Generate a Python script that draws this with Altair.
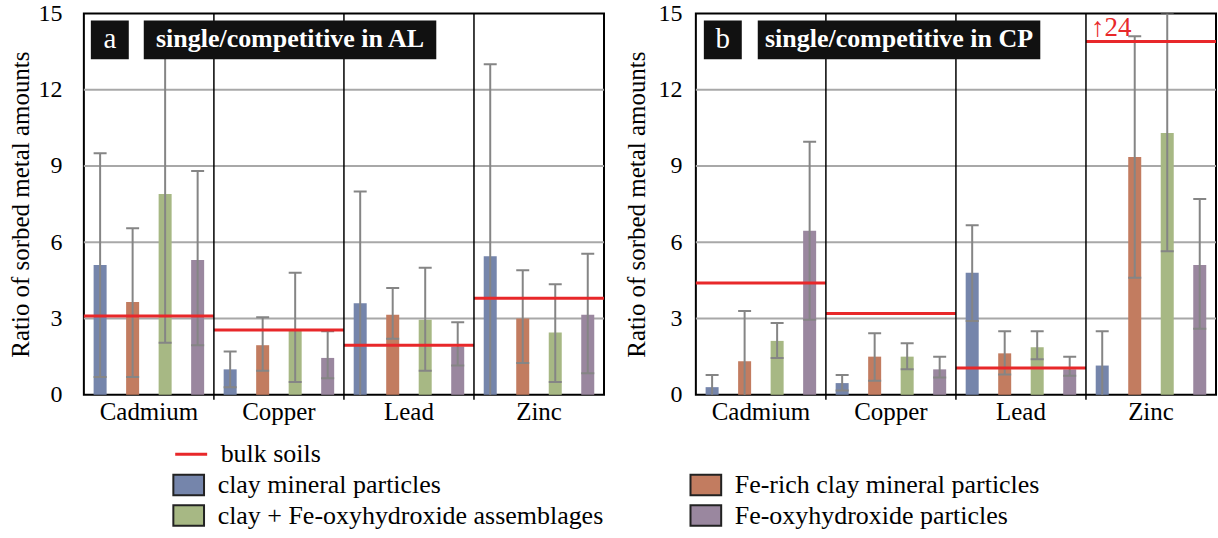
import altair as alt
import pandas as pd

metals = ["Cadmium", "Copper", "Lead", "Zinc"]
types = ["clay mineral particles", "Fe-rich clay mineral particles",
         "clay + Fe-oxyhydroxide assemblages", "Fe-oxyhydroxide particles"]
colors = ["#7585ab", "#c27c60", "#a7b884", "#9a879f"]
# legend fills columns first: left column = items 1 and 3, right column = items 2 and 4
legend_order = [0, 2, 1, 3]
RED = "#e8282a"
FONT = "'Liberation Serif', 'Times New Roman', Times, 'DejaVu Serif', serif"

# ---- panel a : single/competitive in AL ----
al_clay = [5.1, 1.0, 3.6, 5.45]
al_clay_lo = [0.7, 0.3, -0.8, -2.1]
al_clay_hi = [9.5, 1.7, 8.0, 13.0]
al_ferich = [3.65, 1.95, 3.15, 3.0]
al_ferich_lo = [0.7, 0.95, 2.2, 1.25]
al_ferich_hi = [6.55, 3.05, 4.2, 4.9]
al_mixed = [7.9, 2.55, 2.95, 2.45]
al_mixed_lo = [2.05, 0.5, 0.95, 0.5]
al_mixed_hi = [13.75, 4.8, 5.0, 4.35]
al_oxy = [5.3, 1.45, 1.9, 3.15]
al_oxy_lo = [1.95, 0.65, 1.15, 0.85]
al_oxy_hi = [8.8, 2.5, 2.85, 5.55]
al_bulk = [3.1, 2.55, 1.95, 3.8]

# ---- panel b : single/competitive in CP ----
cp_clay = [0.3, 0.46, 4.8, 1.15]
cp_clay_lo = [-0.2, 0.17, 2.9, -0.2]
cp_clay_hi = [0.78, 0.78, 6.67, 2.5]
cp_ferich = [1.32, 1.5, 1.63, 9.35]
cp_ferich_lo = [-0.65, 0.55, 0.8, 4.6]
cp_ferich_hi = [3.3, 2.42, 2.5, 14.1]
cp_mixed = [2.12, 1.5, 1.87, 10.3]
cp_mixed_lo = [1.45, 1.0, 1.4, 5.65]
cp_mixed_hi = [2.82, 2.03, 2.5, 15.0]
cp_oxy = [6.45, 1.0, 1.0, 5.1]
cp_oxy_lo = [2.95, 0.68, 0.75, 2.6]
cp_oxy_hi = [9.95, 1.5, 1.5, 7.7]
cp_bulk = [4.4, 3.2, 1.05, 24]

y_ticks = [0, 3, 6, 9, 12, 15]
grid_vals = [3, 6, 9, 12]
OFFSCALE_POS = 13.9   # where an off-scale bulk value is drawn

W, H = 521, 382
YTITLE = "Ratio of sorbed metal amounts"


def bars_frame(series):
    rows = []
    for t, (m_, lo_, hi_) in zip(types, series):
        for i, met in enumerate(metals):
            rows.append({"metal": met, "type": t, "value": m_[i],
                         "lo": lo_[i], "hi": hi_[i]})
    return pd.DataFrame(rows)


def panel(series, bulk, letter, title_text, label_pad, title_pad, box):
    df = bars_frame(series)
    bulk_df = pd.DataFrame({
        "metal": metals,
        "value": [min(v, OFFSCALE_POS) if v > 15 else v for v in bulk],
        "raw": bulk,
        "lab": ["bulk soils"] * 4,
    })
    xs = alt.Scale(domain=metals, paddingInner=0, paddingOuter=0)
    xo = alt.Scale(domain=types, paddingInner=0.6, paddingOuter=0.3)
    ys = alt.Scale(domain=[0, 15], nice=False, zero=True)
    yaxis = alt.Axis(values=y_ticks, grid=False, ticks=False, domain=False,
                     labelPadding=label_pad, titlePadding=title_pad,
                     labelFontSize=24, titleFontSize=25, labelFont=FONT,
                     titleFont=FONT, titleFontWeight="normal",
                     labelColor="black", titleColor="black")
    xaxis = alt.Axis(ticks=False, domain=False, labelAngle=0, labelPadding=5,
                     labelFontSize=25, labelFont=FONT, labelColor="black",
                     title=None)

    grid = alt.Chart(pd.DataFrame({"value": grid_vals})).mark_rule(
        color="#a8a8a8", strokeWidth=2).encode(
        y=alt.Y("value:Q", scale=ys, axis=yaxis, title=YTITLE))

    bars = alt.Chart(df).mark_bar().encode(
        x=alt.X("metal:N", scale=xs, axis=xaxis, title=None),
        xOffset=alt.XOffset("type:N", scale=xo),
        y=alt.Y("value:Q", scale=ys, title=YTITLE),
        color=alt.Color("type:N",
                        scale=alt.Scale(domain=[types[i] for i in legend_order],
                                        range=[colors[i] for i in legend_order]),
                        legend=alt.Legend(
                            orient="none", legendX=92, legendY=459,
                            columns=2, title=None, labelFont=FONT,
                            labelFontSize=26, labelColor="black",
                            symbolType="M-1.5,-1H1.5V1H-1.5Z", symbolSize=420,
                            symbolStrokeColor="#222", symbolStrokeWidth=2,
                            symbolOpacity=1, columnPadding=82, rowPadding=1,
                            labelOffset=16, padding=0, labelLimit=600)),
    )

    err = alt.Chart(df).mark_rule(color="#858585", strokeWidth=2, clip=True).encode(
        x=alt.X("metal:N", scale=xs, title=None),
        xOffset=alt.XOffset("type:N", scale=xo),
        y=alt.Y("lo:Q", scale=ys, title=YTITLE),
        y2="hi:Q",
    )
    cap_hi = alt.Chart(df).mark_tick(color="#858585", size=13, thickness=2,
                                     clip=True, opacity=1).encode(
        x=alt.X("metal:N", scale=xs, title=None),
        xOffset=alt.XOffset("type:N", scale=xo),
        y=alt.Y("hi:Q", scale=ys, title=YTITLE),
    )
    cap_lo = alt.Chart(df).mark_tick(color="#858585", size=13, thickness=2,
                                     clip=True, opacity=1).encode(
        x=alt.X("metal:N", scale=xs, title=None),
        xOffset=alt.XOffset("type:N", scale=xo),
        y=alt.Y("lo:Q", scale=ys, title=YTITLE),
    )

    bulk_line = alt.Chart(bulk_df).mark_tick(
        filled=True, fill=RED, size=W / 4, thickness=3, strokeWidth=0,
        opacity=1).encode(
        x=alt.X("metal:N", scale=xs, title=None),
        y=alt.Y("value:Q", scale=ys, title=YTITLE),
        stroke=alt.Stroke("lab:N", scale=alt.Scale(domain=["bulk soils"], range=[RED]),
                          legend=alt.Legend(
                              orient="none", legendX=90, legendY=424,
                              title=None, symbolType="stroke", symbolSize=1024,
                              symbolStrokeWidth=3, labelFont=FONT,
                              labelFontSize=26, labelColor="black",
                              labelOffset=12, padding=0)),
    )

    dividers = alt.Chart(pd.DataFrame({"metal": metals[1:]})).mark_rule(
        color="black", strokeWidth=1.5).encode(
        x=alt.X("metal:N", scale=xs, bandPosition=0, title=None),
        y=alt.value(0), y2=alt.value(H + 5))

    b0, b1, b2, b3 = box
    rect_letter = alt.Chart(pd.DataFrame({"k": [0]})).mark_rect(color="#111111").encode(
        x=alt.value(b0), x2=alt.value(b0 + 38), y=alt.value(7), y2=alt.value(46))
    text_letter = alt.Chart(pd.DataFrame({"k": [0]})).mark_text(
        text=letter, color="white", font=FONT, fontSize=29, align="center",
        baseline="middle").encode(x=alt.value(b0 + 19), y=alt.value(26))
    rect_title = alt.Chart(pd.DataFrame({"k": [0]})).mark_rect(color="#111111").encode(
        x=alt.value(b1), x2=alt.value(b2), y=alt.value(7), y2=alt.value(46))
    text_title = alt.Chart(pd.DataFrame({"k": [0]})).mark_text(
        text=title_text, color="white", font=FONT, fontSize=26, fontWeight="bold",
        align="center", baseline="middle").encode(
        x=alt.value((b1 + b2) / 2), y=alt.value(26))

    layers = [grid, bars, err, cap_hi, cap_lo, bulk_line, dividers,
              rect_letter, text_letter, rect_title, text_title]

    off = bulk_df[bulk_df["raw"] > 15].copy()
    if len(off):
        off["t"] = ["\u2191" + str(int(v)) for v in off["raw"]]
        ann = alt.Chart(off).mark_text(
            align="left", baseline="bottom", dx=5, dy=1, color=RED,
            font=FONT, fontSize=27).encode(
            x=alt.X("metal:N", scale=xs, bandPosition=0, title=None),
            y=alt.Y("value:Q", scale=ys, title=YTITLE),
            text="t:N")
        layers.append(ann)

    return alt.layer(*layers).properties(width=W, height=H)


pa = panel([(al_clay, al_clay_lo, al_clay_hi), (al_ferich, al_ferich_lo, al_ferich_hi),
            (al_mixed, al_mixed_lo, al_mixed_hi), (al_oxy, al_oxy_lo, al_oxy_hi)],
           al_bulk, "a", "single/competitive in AL", 22, 4, (7, 60, 353, 0))
pb = panel([(cp_clay, cp_clay_lo, cp_clay_hi), (cp_ferich, cp_ferich_lo, cp_ferich_hi),
            (cp_mixed, cp_mixed_lo, cp_mixed_hi), (cp_oxy, cp_oxy_lo, cp_oxy_hi)],
           cp_bulk, "b", "single/competitive in CP", 14, 8, (8, 62, 345, 0))

chart = alt.hconcat(pa, pb, spacing=18).properties(
    padding={"left": 8, "top": 0, "right": 0, "bottom": 0},
    background="white",
).configure_view(stroke="black", strokeWidth=2).resolve_scale(
    x="independent", y="independent"
)

chart.save("out.html", embed_options={"renderer": "svg", "actions": False})
